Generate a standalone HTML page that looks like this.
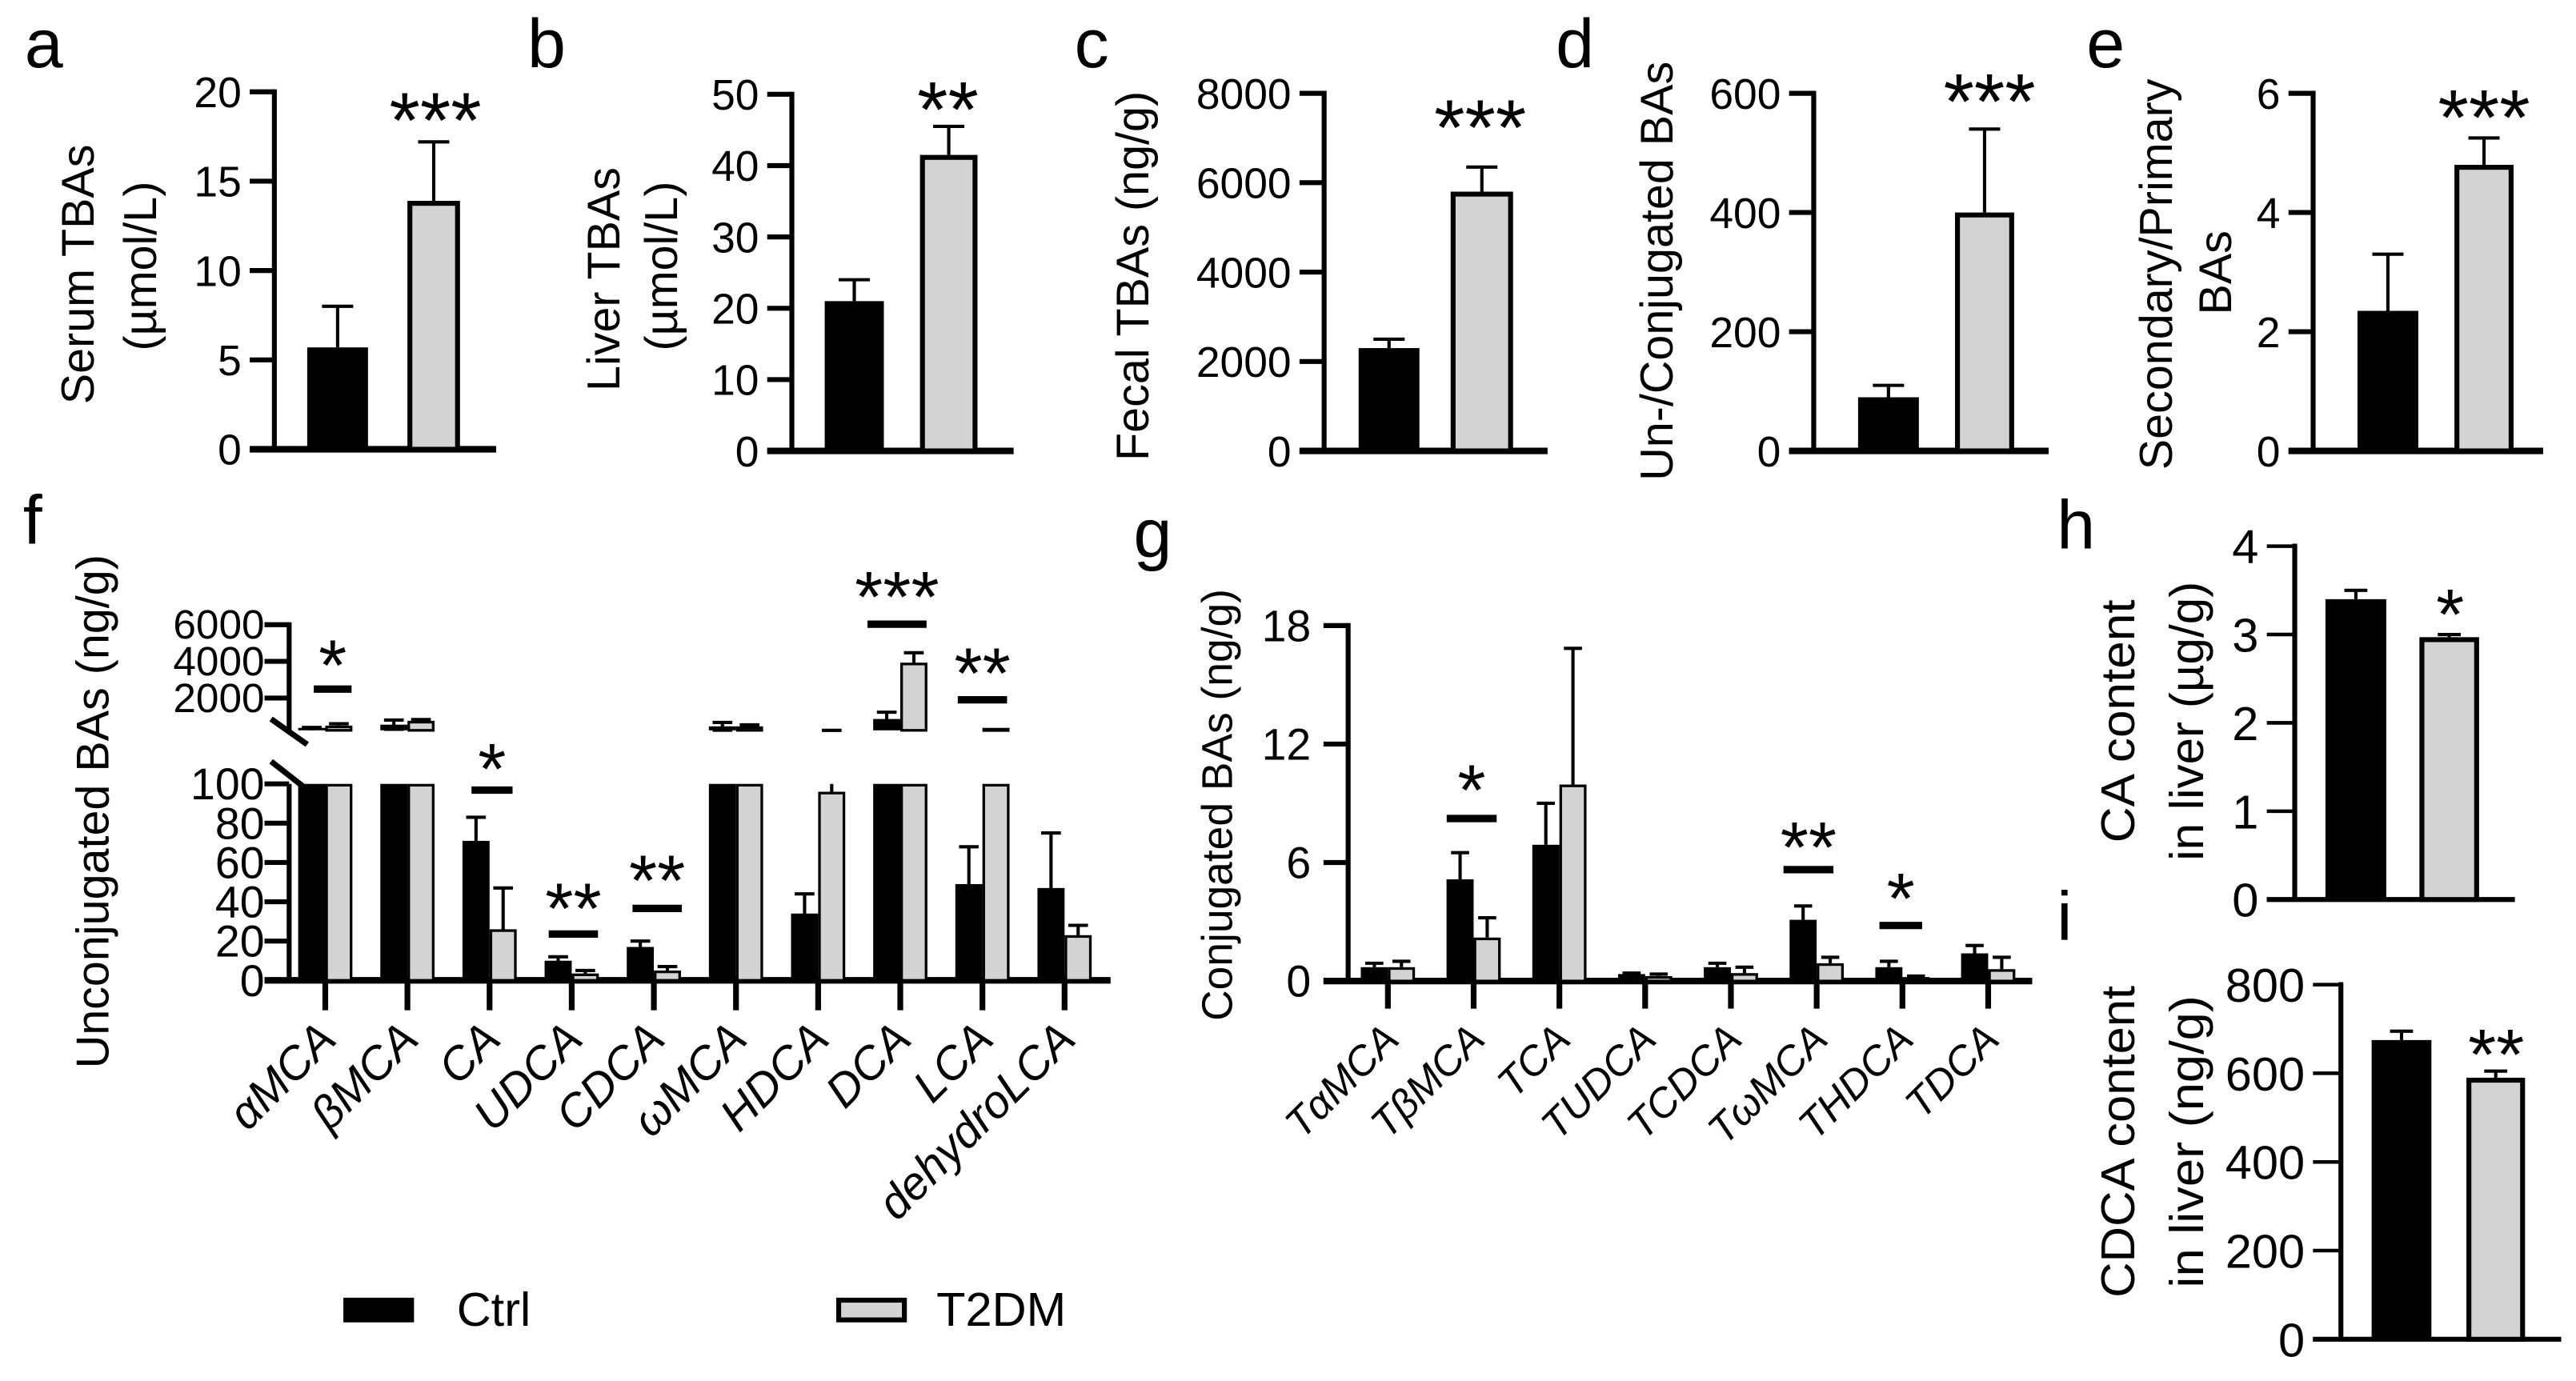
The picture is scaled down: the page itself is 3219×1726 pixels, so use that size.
<!DOCTYPE html>
<html><head><meta charset="utf-8"><title>Bile acid panels</title>
<style>
html,body{margin:0;padding:0;background:#fff;}
svg{display:block;}
text{font-family:"Liberation Sans",Arial,sans-serif;fill:#000;}
</style></head>
<body>
<svg id="fig" xmlns="http://www.w3.org/2000/svg" width="3219" height="1726" viewBox="0 0 1568 840.7" preserveAspectRatio="none">
<rect x="0" y="0" width="1568" height="840.7" fill="#fff"/>
<!-- panel letters -->
<text x="15" y="41" font-size="42">a</text>
<text x="321" y="41" font-size="42">b</text>
<text x="654" y="41" font-size="42">c</text>
<text x="947" y="41" font-size="42">d</text>
<text x="1270" y="41" font-size="42">e</text>
<text x="14" y="331" font-size="42">f</text>
<text x="690" y="339" font-size="42">g</text>
<text x="1252" y="334" font-size="42">h</text>
<text x="1252" y="572" font-size="42">i</text>
<!-- axis titles -->
<text transform="translate(57,167) rotate(-90)" text-anchor="middle" font-size="28">Serum TBAs</text>
<text transform="translate(95,162) rotate(-90)" text-anchor="middle" font-size="28">(µmol/L)</text>
<text transform="translate(377,170) rotate(-90)" text-anchor="middle" font-size="28">Liver TBAs</text>
<text transform="translate(412,162) rotate(-90)" text-anchor="middle" font-size="28">(µmol/L)</text>
<text transform="translate(699,168) rotate(-90)" text-anchor="middle" font-size="28">Fecal TBAs (ng/g)</text>
<text transform="translate(1018,165) rotate(-90)" text-anchor="middle" font-size="28">Un-/Conjugated BAs</text>
<text transform="translate(1322,167) rotate(-90)" text-anchor="middle" font-size="28">Secondary/Primary</text>
<text transform="translate(1358,166) rotate(-90)" text-anchor="middle" font-size="28">BAs</text>
<text transform="translate(66,494) rotate(-90)" text-anchor="middle" font-size="28">Unconjugated BAs (ng/g)</text>
<text transform="translate(750,490) rotate(-90)" text-anchor="middle" font-size="26">Conjugated BAs (ng/g)</text>
<text transform="translate(1299,439) rotate(-90)" text-anchor="middle" font-size="29" textLength="148" lengthAdjust="spacingAndGlyphs">CA content</text>
<text transform="translate(1341,439) rotate(-90)" text-anchor="middle" font-size="29" textLength="170" lengthAdjust="spacingAndGlyphs">in liver (µg/g)</text>
<text transform="translate(1299,695) rotate(-90)" text-anchor="middle" font-size="29" textLength="190" lengthAdjust="spacingAndGlyphs">CDCA content</text>
<text transform="translate(1341,695) rotate(-90)" text-anchor="middle" font-size="29" textLength="178" lengthAdjust="spacingAndGlyphs">in liver (ng/g)</text>
<!-- legend -->
<rect x="209" y="790" width="43" height="15" fill="#000"/>
<text x="278" y="807" font-size="29">Ctrl</text>
<rect x="510.5" y="791.5" width="40" height="12" fill="#d3d3d3" stroke="#000" stroke-width="3"/>
<text x="570" y="807" font-size="29">T2DM</text>
</svg>
<script>
// ===== Two-bar panels (a,b,c,d,e,h,i) data =====
const panelIds = ['a','b','c','d','e','h','i'];
const ctrlVals = [5.7, 21, 2300, 90, 2.35, 3.4, 675];
const ctrlErrTop = [8.0, 24, 2500, 110, 3.3, 3.5, 695];
const t2dmVals = [13.9, 41.5, 5800, 400, 4.8, 2.97, 590];
const t2dmErrTop = [17.2, 45.5, 6350, 540, 5.25, 3.0, 605];
const yMaxes = [20, 50, 8000, 600, 6, 4, 800];
const ySteps = [5, 10, 2000, 200, 2, 1, 200];
const starLabels = ['***','**','***','***','***','*','**'];

// ===== Panel f data =====
const fCats = ['αMCA','βMCA','CA','UDCA','CDCA','ωMCA','HDCA','DCA','LCA','dehydroLCA'];
const fCtrl = [300, 550, 71, 10, 17, 460, 34, 860, 49, 47];
const fCtrlSem = [100, 250, 12, 2, 3, 210, 10, 370, 19, 28];
const fT2dm = [500, 760, 26, 3.5, 5, 460, 96, 3930, 250, 23];
const fT2dmSem = [100, 70, 21, 1.5, 2, 80, 43, 540, 20, 5];
const fUpperTicks = [2000, 4000, 6000];
const fLowerTicks = [0, 20, 40, 60, 80, 100];
const fSigLabels = ['*','*','**','**','***','**'];
const fSigCats = [0, 2, 3, 4, 7, 8];

// ===== Panel g data =====
const gCats = ['TαMCA','TβMCA','TCA','TUDCA','TCDCA','TωMCA','THDCA','TDCA'];
const gCtrl = [0.7, 5.15, 6.9, 0.35, 0.7, 3.1, 0.7, 1.4];
const gCtrlErrTop = [0.9, 6.5, 9.0, 0.4, 0.9, 3.8, 1.0, 1.8];
const gT2dm = [0.7, 2.2, 9.95, 0.25, 0.4, 0.9, 0.2, 0.6];
const gT2dmErrTop = [1.0, 3.2, 16.85, 0.35, 0.7, 1.2, 0.25, 1.2];
const gTicks = [0, 6, 12, 18];
const gSigLabels = ['*','**','*'];
const gSigCats = [1, 5, 6];

const svg = document.getElementById('fig');
const NS = 'http://www.w3.org/2000/svg';
function mk(tag, attrs, parent){
  const e = document.createElementNS(NS, tag);
  for (const k in attrs) e.setAttribute(k, attrs[k]);
  (parent || svg).appendChild(e);
  return e;
}
function line(x1,y1,x2,y2,w,parent){
  return mk('line',{x1:x1,y1:y1,x2:x2,y2:y2,stroke:'#000','stroke-width':w},parent);
}
function star(str,cx,cy,fs,parent){
  const t = mk('text',{x:cx,y:cy+0.57*fs,'text-anchor':'middle','font-size':fs},parent);
  t.textContent = str;
  return t;
}
const GRAY = '#d3d3d3';

// ===== layout (pixel geometry, not data) =====
const layout = [
  {ax:167, yt:55.9, yb:273.5, b0:187, b1:224, g0:248, g1:280, end:302, sx:265, sy:62.6, tl:15, fs:26, hi:false},
  {ax:482, yt:57.4, yb:274.5, b0:502, b1:538, g0:560, g1:595, end:617, sx:577, sy:56, tl:15, fs:26, hi:false},
  {ax:806, yt:56.8, yb:274.5, b0:827, b1:864, g0:883, g1:921, end:942, sx:901, sy:67, tl:15, fs:26, hi:false},
  {ax:1104, yt:56.8, yb:274.5, b0:1131, b1:1168, g0:1190, g1:1226, end:1247, sx:1211, sy:51, tl:15, fs:26, hi:false},
  {ax:1408, yt:56.8, yb:274.5, b0:1435, b1:1472, g0:1494, g1:1530, end:1548, sx:1512, sy:60.7, tl:15, fs:26, hi:false},
  {ax:1396.8, yt:332.5, yb:547.6, b0:1415.5, b1:1452.5, g0:1472.7, g1:1509, end:1530.8, sx:1491.4, sy:364, tl:17, fs:29, hi:true},
  {ax:1424.9, yt:599.4, yb:815.3, b0:1443.6, b1:1480, g0:1501.3, g1:1537, end:1559, sx:1519.4, sy:632, tl:17, fs:29, hi:true}
];

for (let p = 0; p < panelIds.length; p++) {
  const L = layout[p];
  const g = mk('g', {});
  
  
  const y = v => L.yb - (v / yMaxes[p]) * (L.yb - L.yt);
  for (let t = 0; t <= yMaxes[p] + 1e-9; t += ySteps[p]) {
    const tk = line(L.ax - L.tl, y(t), L.ax, y(t), L.hi ? 2.2 : 3, g);
    
    
    const lb = mk('text', {x: L.ax - L.tl - 5, y: y(t) + L.fs * 0.36, 'text-anchor': 'end', 'font-size': L.fs}, g);
    lb.textContent = String(t);
    
    
  }
  const ya = line(L.ax, L.yt - 1.5, L.ax, L.yb, 3, g);
  
  
  const xa = line(L.ax - L.tl, L.yb, L.end, L.yb, L.hi ? 3 : 4, g);
  
  
  // error bars first (behind bars)
  const cap = L.hi ? 7 : 9.5;
  const bc = (L.b0 + L.b1) / 2, gc = (L.g0 + L.g1) / 2;
  const e1 = line(bc, y(ctrlVals[p]), bc, y(ctrlErrTop[p]), 2, g);
  
  
  const c1 = line(bc - cap, y(ctrlErrTop[p]), bc + cap, y(ctrlErrTop[p]), 2, g);
  
  
  const e2 = line(gc, y(t2dmVals[p]), gc, y(t2dmErrTop[p]), 2, g);
  
  
  const c2 = line(gc - cap, y(t2dmErrTop[p]), gc + cap, y(t2dmErrTop[p]), 2, g);
  
  
  const bb = mk('rect', {x: L.b0, y: y(ctrlVals[p]), width: L.b1 - L.b0, height: L.yb - y(ctrlVals[p]), fill: '#000'}, g);
  
  
  const gb = mk('rect', {x: L.g0 + 1.5, y: y(t2dmVals[p]) + 1.5, width: L.g1 - L.g0 - 3, height: L.yb - y(t2dmVals[p]) - 1.5, fill: GRAY, stroke: '#000', 'stroke-width': 3}, g);
  
  
  const st = star(starLabels[p], L.sx, L.sy, L.hi ? 44 : 48, g);
  
  
}

// ===== Panel f =====
(function(){
  const g = mk('g', {});
  
  
  const AX = 176, BASE = 596.8, LTOP = 477.2, UBOT = 444.6, UTOP = 380.3;
  const yL = v => BASE - Math.min(v, 100) * 1.196;
  const yU = v => Math.min(447.3 - v * 0.01117, UBOT);
  const UMIN = (447.3 - UBOT) / 0.01117;
  const xc = i => 198 + 50 * i;
  // ticks
  for (const t of fLowerTicks) {
    const tk = line(AX - 15, yL(t), AX, yL(t), 3, g);
    
    
    const lb = mk('text', {x: 161, y: yL(t) + 9.5, 'text-anchor': 'end', 'font-size': 27}, g);
    lb.textContent = String(t);
    
    
  }
  for (const t of fUpperTicks) {
    const yy = 447.3 - t * 0.01117;
    const tk = line(AX - 15, yy, AX, yy, 3, g);
    
    
    const lb = mk('text', {x: 161, y: yy + 8.5, 'text-anchor': 'end', 'font-size': 25}, g);
    lb.textContent = String(t);
    
    
  }
  const ua = line(AX, UTOP - 1.5, AX, UBOT, 3, g);
  
  
  const la = line(AX, LTOP, AX, BASE, 3, g);
  
  
  const s1 = line(165, 437.7, 187, 453.2, 3.5, g);
  
  
  const s2 = line(165, 463.5, 187, 480.7, 3.5, g);
  
  
  const xa = line(AX - 15, BASE, 676, BASE, 4, g);
  
  

  function drawBar(i, v, sem, x0, x1, isCtrl){
    const c = (x0 + x1) / 2, top = v + sem, bot = v - sem;
    const cap = 6;
    // error bars
    if (bot < 100) {
      const ye = line(c, yL(Math.max(bot, 0)), c, yL(Math.min(top, 100)), 2, g);
      
      
      if (bot > 0) {
        const lc = line(c - cap, yL(bot), c + cap, yL(bot), 2, g);
        
        
      }
      if (top <= 100) {
        const tc = line(c - cap, yL(top), c + cap, yL(top), 2, g);
        
        
      }
    }
    if (top > 100) {
      const ue = line(c, yU(Math.max(bot, UMIN)), c, yU(top), 2, g);
      
      
      const uc = line(c - cap, yU(top), c + cap, yU(top), 2, g);
      
      
      if (bot > UMIN) {
        const ulc = line(c - cap, yU(bot), c + cap, yU(bot), 2, g);
        
        
      }
    }
    const fill = isCtrl ? '#000' : GRAY;
    const sw = isCtrl ? 0 : 1.6;
    const ytop = yL(v);
    const r = mk('rect', {x: x0 + sw / 2, y: ytop + sw / 2, width: x1 - x0 - sw, height: BASE - ytop - sw / 2, fill: fill, stroke: '#000', 'stroke-width': sw}, g);
    
    
    if (v > 100) {
      const yt = Math.min(yU(v), UBOT - 1.5);
      const ur = mk('rect', {x: x0 + sw / 2, y: yt + sw / 2, width: x1 - x0 - sw, height: Math.max(UBOT - yt - sw / 2, 0.8), fill: fill, stroke: '#000', 'stroke-width': sw}, g);
      
      
    }
  }
  for (let i = 0; i < fCats.length; i++) {
    const c = xc(i);
    drawBar(i, fCtrl[i], fCtrlSem[i], c - 16.5, c, true);
    drawBar(i, fT2dm[i], fT2dmSem[i], c, c + 16.5, false);
    const ct = line(c, BASE, c, 615, 3.5, g);
    
    
    const lb = mk('text', {transform: 'translate(' + (c + 8) + ',634) rotate(-45)', 'text-anchor': 'end', 'font-size': 28, 'font-style': 'italic'}, g);
    lb.textContent = fCats[i];
    
    
  }
  const sigPos = [
    {x0:191, x1:214, y:419.5, sy:395},
    {x0:287, x1:312, y:481, sy:458},
    {x0:334, x1:364, y:568.6, sy:543},
    {x0:385, x1:415, y:553, sy:526},
    {x0:528, x1:564, y:380, sy:353.5},
    {x0:583, x1:613, y:426, sy:400}
  ];
  for (let k = 0; k < fSigLabels.length; k++) {
    const P = sigPos[k];
    const sl = line(P.x0, P.y, P.x1, P.y, 4.5, g);
    
    
    const st = star(fSigLabels[k], (P.x0 + P.x1) / 2, P.sy, 44, g);
    
    
  }
})();

// ===== Panel g =====
(function(){
  const g = mk('g', {});
  
  
  const AX = 820.6, BASE = 597.2;
  const y = v => BASE - v * 12.02;
  const xc = i => 844.8 + 52.2 * i;
  for (const t of gTicks) {
    const tk = line(AX - 15, y(t), AX, y(t), 3, g);
    
    
    const lb = mk('text', {x: 798, y: y(t) + 9.5, 'text-anchor': 'end', 'font-size': 27}, g);
    lb.textContent = String(t);
    
    
  }
  const ya = line(AX, y(18) - 1.5, AX, BASE, 3, g);
  
  
  const xa = line(AX - 15, BASE, 1237, BASE, 4, g);
  
  
  for (let i = 0; i < gCats.length; i++) {
    const c = xc(i);
    const bc = c - 8.25, gc = c + 8.25;
    const e1 = line(bc, y(gCtrl[i]), bc, y(gCtrlErrTop[i]), 2, g);
    
    
    const c1 = line(bc - 5.5, y(gCtrlErrTop[i]), bc + 5.5, y(gCtrlErrTop[i]), 2, g);
    
    
    const e2 = line(gc, y(gT2dm[i]), gc, y(gT2dmErrTop[i]), 2, g);
    
    
    const c2 = line(gc - 5.5, y(gT2dmErrTop[i]), gc + 5.5, y(gT2dmErrTop[i]), 2, g);
    
    
    const b = mk('rect', {x: c - 16.5, y: y(gCtrl[i]), width: 16.5, height: BASE - y(gCtrl[i]), fill: '#000'}, g);
    
    
    const gb = mk('rect', {x: c + 0.8, y: y(gT2dm[i]) + 0.8, width: 14.9, height: Math.max(BASE - y(gT2dm[i]) - 0.8, 0), fill: GRAY, stroke: '#000', 'stroke-width': 1.6}, g);
    
    
    const ct = line(c, BASE, c, 614, 3.5, g);
    
    
    const lb = mk('text', {transform: 'translate(' + (c + 8) + ',634) rotate(-45)', 'text-anchor': 'end', 'font-size': 25, 'font-style': 'italic'}, g);
    lb.textContent = gCats[i];
    
    
  }
  const sigPos = [
    {x0:880.6, x1:911, y:498.3, sy:471},
    {x0:1085.6, x1:1116, y:529.4, sy:505.8},
    {x0:1144, x1:1170, y:563.4, sy:537}
  ];
  for (let k = 0; k < gSigLabels.length; k++) {
    const P = sigPos[k];
    const sl = line(P.x0, P.y, P.x1, P.y, 4.5, g);
    
    
    const st = star(gSigLabels[k], (P.x0 + P.x1) / 2, P.sy, 44, g);
    
    
  }
})();
</script>
</body></html>
